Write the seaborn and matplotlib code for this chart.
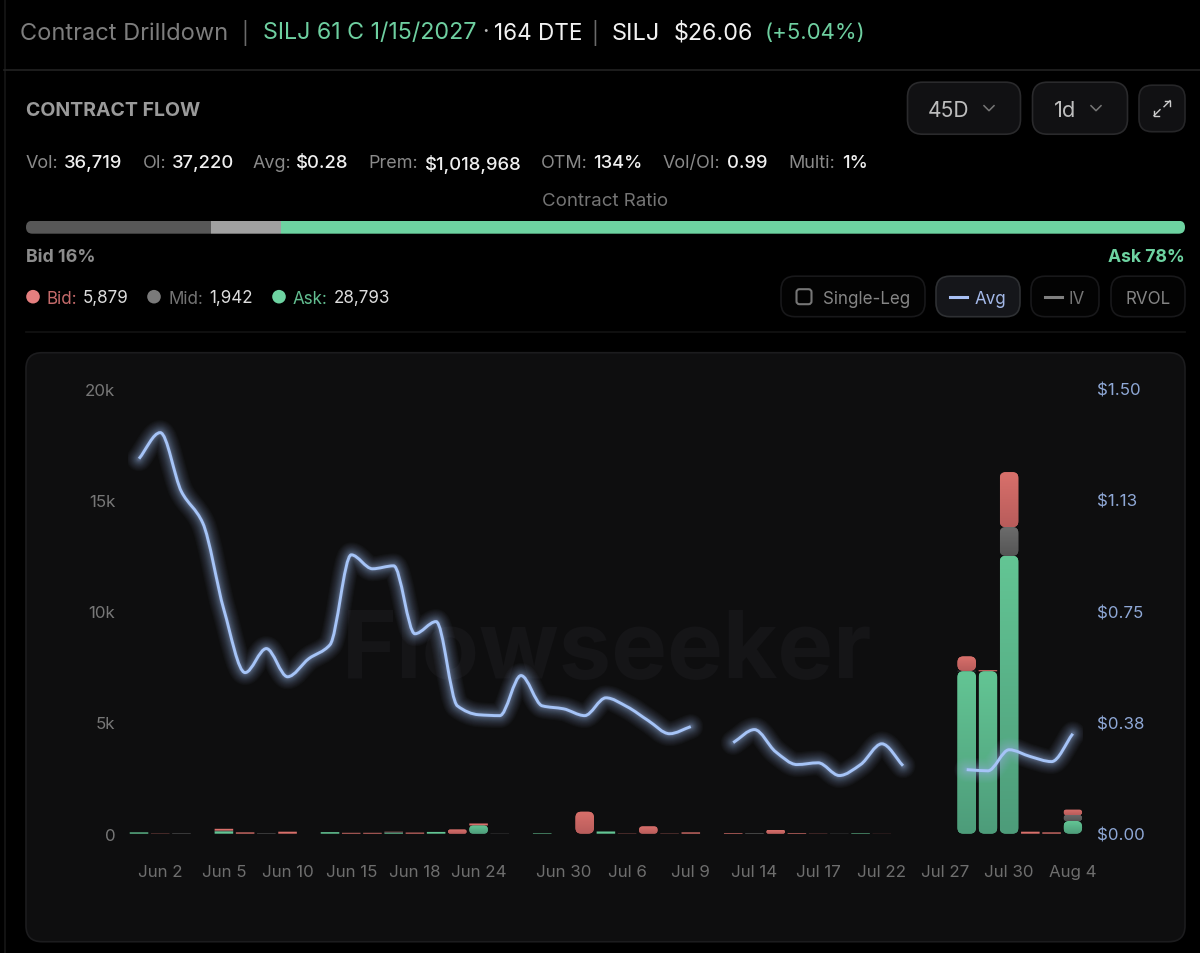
import numpy as np
import pandas as pd
import matplotlib
matplotlib.use("Agg")
import matplotlib.pyplot as plt
import seaborn as sns
from matplotlib.patches import FancyBboxPatch, PathPatch, Circle
from matplotlib.path import Path

# trading days on the category axis
days = ["Jun 1", "Jun 2", "Jun 3", "Jun 4", "Jun 5", "Jun 8", "Jun 9", "Jun 10", "Jun 11",
        "Jun 12", "Jun 15", "Jun 16", "Jun 17", "Jun 18", "Jun 22", "Jun 23", "Jun 24",
        "Jun 25", "Jun 26", "Jun 29", "Jun 30", "Jul 1", "Jul 2", "Jul 6", "Jul 7", "Jul 8",
        "Jul 9", "Jul 10", "Jul 13", "Jul 14", "Jul 15", "Jul 16", "Jul 17", "Jul 20",
        "Jul 21", "Jul 22", "Jul 23", "Jul 24", "Jul 27", "Jul 28", "Jul 29", "Jul 30",
        "Jul 31", "Aug 3", "Aug 4"]
shown_days = ["Jun 2", "Jun 5", "Jun 10", "Jun 15", "Jun 18", "Jun 24", "Jun 30", "Jul 6",
              "Jul 9", "Jul 14", "Jul 17", "Jul 22", "Jul 27", "Jul 30", "Aug 4"]

ask = [60, 0, 0, 0, 110, 0, 0, 0, 0, 70, 0, 0, 45, 0, 80, 0, 370, 0, 0, 25, 0, 0, 100, 0, 0, 0,
       0, 0, 0, 0, 0, 0, 0, 0, 25, 0, 0, 0, 0, 7300, 7300, 12490, 0, 0, 570]
mid = [0, 0, 20, 0, 30, 0, 20, 0, 0, 0, 0, 0, 35, 0, 0, 0, 0, 10, 0, 0, 0, 0, 0, 0, 0, 0,
       0, 0, 0, 25, 0, 0, 0, 10, 0, 0, 0, 0, 0, 20, 0, 1290, 0, 0, 270]
bid = [0, 12, 0, 0, 80, 60, 0, 90, 0, 0, 40, 40, 10, 50, 0, 190, 90, 0, 0, 0, 0, 990, 0, 12, 330,
       12, 60, 0, 30, 0, 170, 30, 10, 0, 0, 5, 0, 0, 0, 650, 50, 2470, 90, 60, 240]
avg = [1.264, 1.352, 1.153, 1.048, 0.755, 0.543, 0.624, 0.529, 0.590, 0.637, 0.940, 0.893,
       0.903, 0.674, 0.715, 0.431, 0.401, 0.398, 0.533, 0.431, 0.421, 0.398, 0.458, 0.428,
       0.381, 0.337, 0.361, None, 0.307, 0.351, 0.276, 0.233, 0.239, 0.196, 0.233, 0.303,
       0.229, None, None, 0.216, 0.212, 0.283, 0.260, 0.243, 0.337]

vol_ticks = [0, 5000, 10000, 15000, 20000]
vol_labels = ["0", "5k", "10k", "15k", "20k"]
avg_ticks = [0, 0.375, 0.75, 1.125, 1.5]
avg_labels = ["$0.00", "$0.38", "$0.75", "$1.13", "$1.50"]
ratio_names = ["bid", "mid", "ask"]
ratio_vals = [16, 6, 78]

GREEN = "#6dd3a1"
W, H = 1200, 954
SHIFT = 0.7
plt.rcParams["font.family"] = ["Inter", "DejaVu Sans"]

fig = plt.figure(figsize=(12, 9.54), dpi=100, facecolor="black")

# ---- page chrome, drawn in pixel coordinates
ui = fig.add_axes([0, 0, 1, 1], zorder=0)
ui.set_xlim(0, W)
ui.set_ylim(H - SHIFT, -SHIFT)
ui.axis("off")


def txt(x, y, s, size, color, weight="normal", ha="left"):
    ui.text(x, y - SHIFT, s, fontsize=size * 0.72, color=color, fontweight=weight, ha=ha, va="center_baseline")


def pill(x0, y0, x1, y1, r, face, edge, lw=1.0):
    ui.add_patch(FancyBboxPatch((x0, y0), x1 - x0, y1 - y0, boxstyle=f"round,pad=0,rounding_size={r}",
                                fc=face, ec=edge, lw=lw))


ui.plot([4.5, 4.5], [0, H], color="#161616", lw=1.2)
ui.plot([4, W], [70, 70], color="#222222", lw=1.2)
ui.plot([26, 1185], [332, 332], color="#131313", lw=1.2)
pill(26, 353, 1185, 942, 16, "#0e0e0f", "#1c1c1e", 1.2)

# header row
txt(20, 31, "Contract Drilldown", 23.6, "#7d7d7d")
txt(241, 30, "|", 21, "#6a6a6a")
txt(263, 31, "SILJ 61 C 1/15/2027", 23.3, "#6ecfa0")
txt(482, 31, "·", 23, "#bbbbbb")
txt(494, 31, "164 DTE", 22.5, "#f2f2f2")
txt(591, 30, "|", 21, "#6a6a6a")
txt(612, 31, "SILJ", 23.6, "#f2f2f2")
txt(674, 31, "$26.06", 23.3, "#f2f2f2")
txt(765, 31, "(+5.04%)", 22.2, "#6ecfa0")

txt(26, 109, "CONTRACT FLOW", 19.5, "#9a9a9a", "bold")

# dropdowns
pill(907.5, 82.5, 1020.5, 134.5, 15, "#111113", "#2a2a2c", 1.2)
txt(928, 109, "45D", 21, "#bdbdbd")
pill(1032.5, 82.5, 1127.5, 134.5, 15, "#111113", "#2a2a2c", 1.2)
txt(1054, 109, "1d", 22, "#bdbdbd")
pill(1139, 85.5, 1185, 132, 13, "#111113", "#262628", 1.2)
for cx in (989, 1096):
    ui.plot([cx - 5, cx, cx + 5], [106, 111, 106], color="#777777", lw=1.1)
ui.plot([1154, 1160], [116, 110], color="#cccccc", lw=1.0)
ui.plot([1164, 1170], [107, 101], color="#cccccc", lw=1.0)
ui.plot([1165, 1170, 1170], [101, 101, 106], color="#cccccc", lw=1.0)
ui.plot([1154, 1154, 1159], [111, 116, 116], color="#cccccc", lw=1.0)

# stats row
stats = [(26, "Vol:", 64, "36,719"), (143, "OI:", 172, "37,220"), (253, "Avg:", 296, "$0.28"),
         (368, "Prem:", 425, "$1,018,968"), (541, "OTM:", 593, "134%"),
         (663, "Vol/OI:", 727, "0.99"), (788, "Multi:", 842, "1%")]
for x0, name, x1, val in stats:
    txt(x0, 162, name, 18, "#8a8a8a")
    txt(x1, 162, val, 18.4, "#f0f0f0", "medium")

txt(605, 200, "Contract Ratio", 18.7, "#757575", ha="center")
txt(26, 255, "Bid 16%", 17.8, "#8c8c8c", "bold")
txt(1185, 255, "Ask 78%", 17.6, GREEN, "bold", ha="right")

# bid / mid / ask legend
for cx, dot, name_x, name, name_col, val_x, val in [
        (33, "#e57f7f", 47, "Bid:", "#c46a6a", 83, "5,879"),
        (154, "#7a7a7a", 168, "Mid:", "#747474", 209, "1,942"),
        (279, GREEN, 293, "Ask:", "#62bd90", 334, "28,793")]:
    ui.add_patch(Circle((cx, 297), 6.8, fc=dot, ec="none"))
    txt(name_x, 297, name, 17, name_col)
    txt(val_x, 297, val, 17, "#dddddd")

# toggles
pill(781, 276.5, 925, 317, 14, "#030303", "#18181a", 1.2)
ui.add_patch(FancyBboxPatch((796.5, 289.5), 15, 15, boxstyle="round,pad=0,rounding_size=3",
                            fc="none", ec="#767676", lw=1.5))
txt(823, 297, "Single-Leg", 17, "#858585")
pill(936, 276.5, 1020, 317, 14, "#15161a", "#2e3033", 1.2)
ui.plot([950, 967], [297, 297], color="#a8c0f5", lw=2.2)
txt(975, 297, "Avg", 17, "#a3b8e8")
pill(1031, 276.5, 1099, 317, 14, "#030303", "#18181a", 1.2)
ui.plot([1045, 1062], [297, 297], color="#808080", lw=2.2)
txt(1069, 297, "IV", 17, "#757575")
pill(1111, 276.5, 1185, 317, 14, "#030303", "#18181a", 1.2)
txt(1148, 297, "RVOL", 17, "#858585", ha="center")

# watermark
ui.text(607, 677, "Flowseeker", fontsize=67.5, color="#151517", fontweight="bold", ha="center", va="baseline")

# ---- contract ratio bar
ax_r = fig.add_axes([26 / W, (H - 234 - SHIFT) / H, 1159 / W, 13 / H], zorder=1)
left = 0
for name, val, col in zip(ratio_names, ratio_vals, ["#575757", "#a0a0a0", GREEN]):
    sns.barplot(x=[val], y=[0], orient="y", left=left, color=col, saturation=1, width=1, ax=ax_r)
    left += val
ax_r.set_xlim(0, 100)
ax_r.set_ylim(-0.5, 0.5)
ax_r.axis("off")
r_clip = FancyBboxPatch((0, -0.5), 100, 1, boxstyle="round,pad=0,rounding_size=0.55",
                        mutation_aspect=1 / 13 / (100 / 1159), transform=ax_r.transData,
                        fc="none", ec="none")
ax_r.add_patch(r_clip)
for p in ax_r.patches[:3]:
    p.set_clip_path(r_clip)

# ---- flow chart
df = pd.DataFrame({"day": days, "ask": ask, "mid": mid, "bid": bid})
ax_left, ax_right = 128.4, 1083.4
y_zero, y_top = 834 + SHIFT, 389 + SHIFT
ax = fig.add_axes([ax_left / W, (H - y_zero) / H, (ax_right - ax_left) / W, (y_zero - y_top) / H], zorder=2)
ax.patch.set_visible(False)

stack = df["ask"] * 0
layers = [("ask", "#63c594", "#4d9c7a"), ("mid", "#6c6c6c", "#555555"), ("bid", "#d9706b", "#b85c5b")]
gradients = []
for name, top_col, bot_col in layers:
    n0 = len(ax.patches)
    sns.barplot(data=df, x="day", y=name, order=days, bottom=stack.values, color=top_col,
                saturation=1, width=0.875, ax=ax)
    gradients.append((ax.patches[n0:], top_col, bot_col))
    stack = stack + df[name]

ax.set_xlim(-0.5, len(days) - 0.5)
ax.set_ylim(0, 20000)
cat_per_px = len(days) / (ax_right - ax_left)
vol_per_px = 20000 / (y_zero - y_top)

# round the bar corners and give them the top to bottom fade
for bars, top_col, bot_col in gradients:
    grad = np.linspace(matplotlib.colors.to_rgb(top_col), matplotlib.colors.to_rgb(bot_col), 64)[:, None, :]
    for p in bars:
        p.set_snap(False)
        p.set_linewidth(0)
        x0, w, y0, h = p.get_x(), p.get_width(), p.get_y(), p.get_height()
        if h / vol_per_px < 2.5:
            continue
        r_px = min(6, h / vol_per_px / 2)
        clip = FancyBboxPatch((x0, y0), w, h, boxstyle=f"round,pad=0,rounding_size={r_px * cat_per_px}",
                              mutation_aspect=vol_per_px / cat_per_px, transform=ax.transData,
                              fc="none", ec="none")
        ax.add_patch(clip)
        p.set_clip_path(clip)
        im = ax.imshow(grad, extent=(x0, x0 + w, y0, y0 + h), aspect="auto", zorder=2)
        im.set_clip_path(clip)

ax.set_xlim(-0.5, len(days) - 0.5)
ax.set_ylim(0, 20000)
ax.set_xticks([days.index(d) for d in shown_days])
ax.set_xticklabels(shown_days)
ax.set_yticks(vol_ticks)
ax.set_yticklabels(vol_labels)
ax.set_xlabel("")
ax.set_ylabel("")
ax.tick_params(axis="x", length=0, pad=21.5, labelsize=12.2, labelcolor="#6e6e6e")
ax.tick_params(axis="y", length=0, pad=9.5, labelsize=12.2, labelcolor="#777777")
sns.despine(ax=ax, left=True, bottom=True)

# ---- avg line on the second axis
ax2 = ax.twinx()
ax2.set_zorder(3)
ax2.patch.set_visible(False)
line_df = pd.DataFrame({"pos": range(len(days)), "avg": avg})
line_df["avg"] = pd.to_numeric(line_df["avg"])
line_df["seg"] = line_df["avg"].isna().cumsum()
line_df = line_df.dropna()
sns.lineplot(data=line_df, x="pos", y="avg", units="seg", estimator=None, color="#a3c4f5",
             lw=1.0, ax=ax2, legend=False)
ax2.set_ylim(0, 1.5)
ax2.set_xlim(-0.5, len(days) - 0.5)
ax2.set_yticks(avg_ticks)
ax2.set_yticklabels(avg_labels)
ax2.set_ylabel("")
ax2.tick_params(axis="y", length=0, pad=10, labelsize=12.2, labelcolor="#8fa8d6")
for s in ax2.spines.values():
    s.set_visible(False)
for s in ax.spines.values():
    s.set_visible(False)


def smooth_path(xy):
    # monotone bezier through the points, no overshoot at the peaks
    slopes = np.diff(xy[:, 1]) / np.diff(xy[:, 0])
    tang = np.zeros(len(xy))
    tang[0], tang[-1] = slopes[0], slopes[-1]
    for i in range(1, len(xy) - 1):
        a, b = slopes[i - 1], slopes[i]
        if a * b > 0:
            tang[i] = 2 * a * b / (a + b)
    verts = [xy[0]]
    codes = [Path.MOVETO]
    for i in range(len(xy) - 1):
        dx = (xy[i + 1, 0] - xy[i, 0]) / 3
        verts.append((xy[i, 0] + dx, xy[i, 1] + tang[i] * dx))
        verts.append((xy[i + 1, 0] - dx, xy[i + 1, 1] - tang[i + 1] * dx))
        verts.append(xy[i + 1])
        codes += [Path.CURVE4] * 3
    return Path(np.array(verts), codes)


for line in list(ax2.get_lines()):
    path = smooth_path(np.asarray(line.get_xydata()))
    line.set_visible(False)
    for glow_w in np.geomspace(18, 2.5, 24):
        ax2.add_patch(PathPatch(path, fc="none", ec="#aac6f7", lw=glow_w, alpha=0.026,
                                capstyle="round", joinstyle="round", transform=ax2.transData))
    ax2.add_patch(PathPatch(path, fc="none", ec="#a6c4f7", lw=2.1, capstyle="butt",
                            joinstyle="round", transform=ax2.transData))

fig.savefig("out.png", dpi=100, facecolor="black")
